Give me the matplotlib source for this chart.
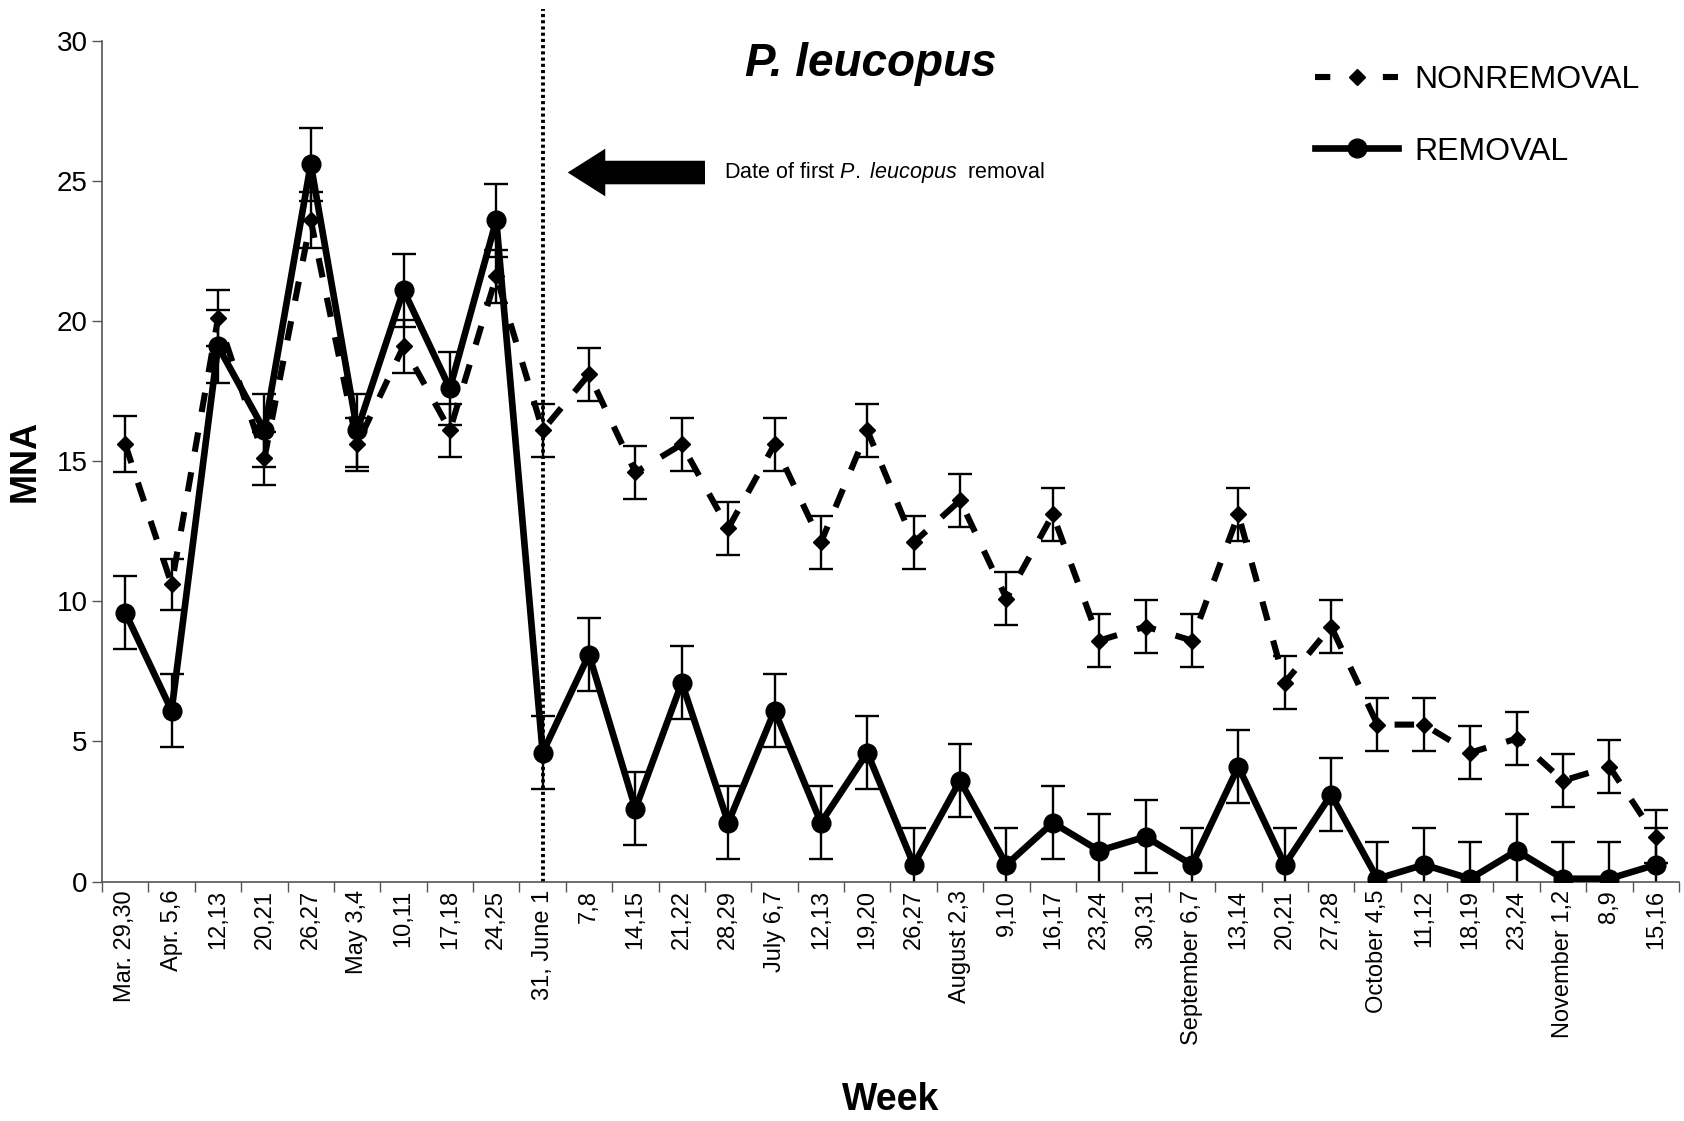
import matplotlib
matplotlib.use("Agg")
import matplotlib.pyplot as plt
import numpy as np
from matplotlib.lines import Line2D
from matplotlib.patches import FancyArrow

plt.rcParams["font.family"] = ["Liberation Sans", "DejaVu Sans"]
plt.rcParams["mathtext.fontset"] = "custom"
plt.rcParams["mathtext.rm"] = "Liberation Sans"
plt.rcParams["mathtext.it"] = "Liberation Sans:italic"

weeks = [
    "Mar. 29,30", "Apr. 5,6", "12,13", "20,21", "26,27", "May 3,4", "10,11",
    "17,18", "24,25", "31, June 1", "7,8", "14,15", "21,22", "28,29",
    "July 6,7", "12,13", "19,20", "26,27", "August 2,3", "9,10", "16,17",
    "23,24", "30,31", "September 6,7", "13,14", "20,21", "27,28",
    "October 4,5", "11,12", "18,19", "23,24", "November 1,2", "8,9", "15,16",
]

nonremoval = [
    15.6, 10.6, 20.1, 15.1, 23.6, 15.6, 19.1, 16.1, 21.6, 16.1, 18.1, 14.6,
    15.6, 12.6, 15.6, 12.1, 16.1, 12.1, 13.6, 10.1, 13.1, 8.6, 9.1, 8.6,
    13.1, 7.1, 9.1, 5.6, 5.6, 4.6, 5.1, 3.6, 4.1, 1.6,
]
nonremoval_err = [
    1.0, 0.9, 1.0, 0.95, 1.0, 0.95, 0.95, 0.95, 0.95, 0.95, 0.95, 0.95,
    0.95, 0.95, 0.95, 0.95, 0.95, 0.95, 0.95, 0.95, 0.95, 0.95, 0.95, 0.95,
    0.95, 0.95, 0.95, 0.95, 0.95, 0.95, 0.95, 0.95, 0.95, 0.95,
]

removal = [
    9.6, 6.1, 19.1, 16.1, 25.6, 16.1, 21.1, 17.6, 23.6, 4.6, 8.1, 2.6,
    7.1, 2.1, 6.1, 2.1, 4.6, 0.6, 3.6, 0.6, 2.1, 1.1, 1.6, 0.6,
    4.1, 0.6, 3.1, 0.1, 0.6, 0.1, 1.1, 0.1, 0.1, 0.6,
]
removal_err = [1.3] * len(removal)

REMOVAL_START = "31, June 1"

x = np.arange(len(weeks))

fig = plt.figure(figsize=(16.84, 11.21), dpi=100)
ax = fig.add_axes([0.0606, 0.2136, 0.9364, 0.75])

ax.errorbar(x, nonremoval, yerr=nonremoval_err, fmt="none", ecolor="black",
            elinewidth=1.7, capsize=8.5, capthick=1.7, zorder=2)
ax.errorbar(x, removal, yerr=removal_err, fmt="none", ecolor="black",
            elinewidth=1.7, capsize=8.5, capthick=1.7, zorder=2)

ax.plot(x, nonremoval, color="black", lw=4.4, linestyle=(0, (3.2, 3.4)),
        marker="D", markersize=8.5, zorder=3)
ax.plot(x, removal, color="black", lw=4.8, marker="o", markersize=13.5,
        zorder=4)

# first removal date
xr = weeks.index(REMOVAL_START)
ax.axvline(xr, ymin=0, ymax=1.038, color="black", lw=2.8, linestyle=(0, (0.8, 0.8)),
           clip_on=False, zorder=1)

ax.add_patch(FancyArrow(12.5, 25.3, -2.96, 0, width=0.84, head_width=1.7,
                        head_length=0.81, length_includes_head=True,
                        color="black", lw=0, zorder=5))
ax.text(12.9, 25.3, "Date of first $P.$ $leucopus$  removal", fontsize=15.5,
        va="center", ha="left")

ax.set_xlim(-0.5, len(weeks) - 0.5)
ax.set_ylim(0, 30)
ax.set_yticks(np.arange(0, 31, 5))
ax.tick_params(axis="y", labelsize=20, length=7, width=1, color="#555555")
ax.set_xticks(x)
ax.set_xticklabels(weeks, rotation=90, fontsize=17)
ax.set_xticks(np.arange(-0.5, len(weeks), 1), minor=True)
ax.tick_params(axis="x", which="major", length=0, pad=6)
ax.tick_params(axis="x", which="minor", length=7, width=1, color="#555555")

for side in ["top", "right"]:
    ax.spines[side].set_visible(False)
for side in ["left", "bottom"]:
    ax.spines[side].set_color("#555555")
    ax.spines[side].set_linewidth(1.2)

ax.set_ylabel("MNA", fontsize=26, fontweight="bold", labelpad=10)
fig.text(0.529, 0.019, "Week", fontsize=27, fontweight="bold", ha="center",
         va="center")
fig.text(0.517, 0.943, "P. leucopus", fontsize=33, fontweight="bold",
         style="italic", ha="center", va="center")

handles = [
    Line2D([], [], color="black", lw=4.4, linestyle=(0, (2.5, 8.6)),
           marker="D", markersize=8.5),
    Line2D([], [], color="black", lw=4.8, marker="o", markersize=13.5),
]
ax.legend(handles, ["NONREMOVAL", "REMOVAL"], loc="upper left",
          bbox_to_anchor=(0.781, 0.942), bbox_transform=fig.transFigure,
          frameon=False, fontsize=23, handlelength=2.6, labelspacing=1.3,
          handletextpad=0.5, borderpad=0, borderaxespad=0)

fig.savefig("out.png", dpi=100)
